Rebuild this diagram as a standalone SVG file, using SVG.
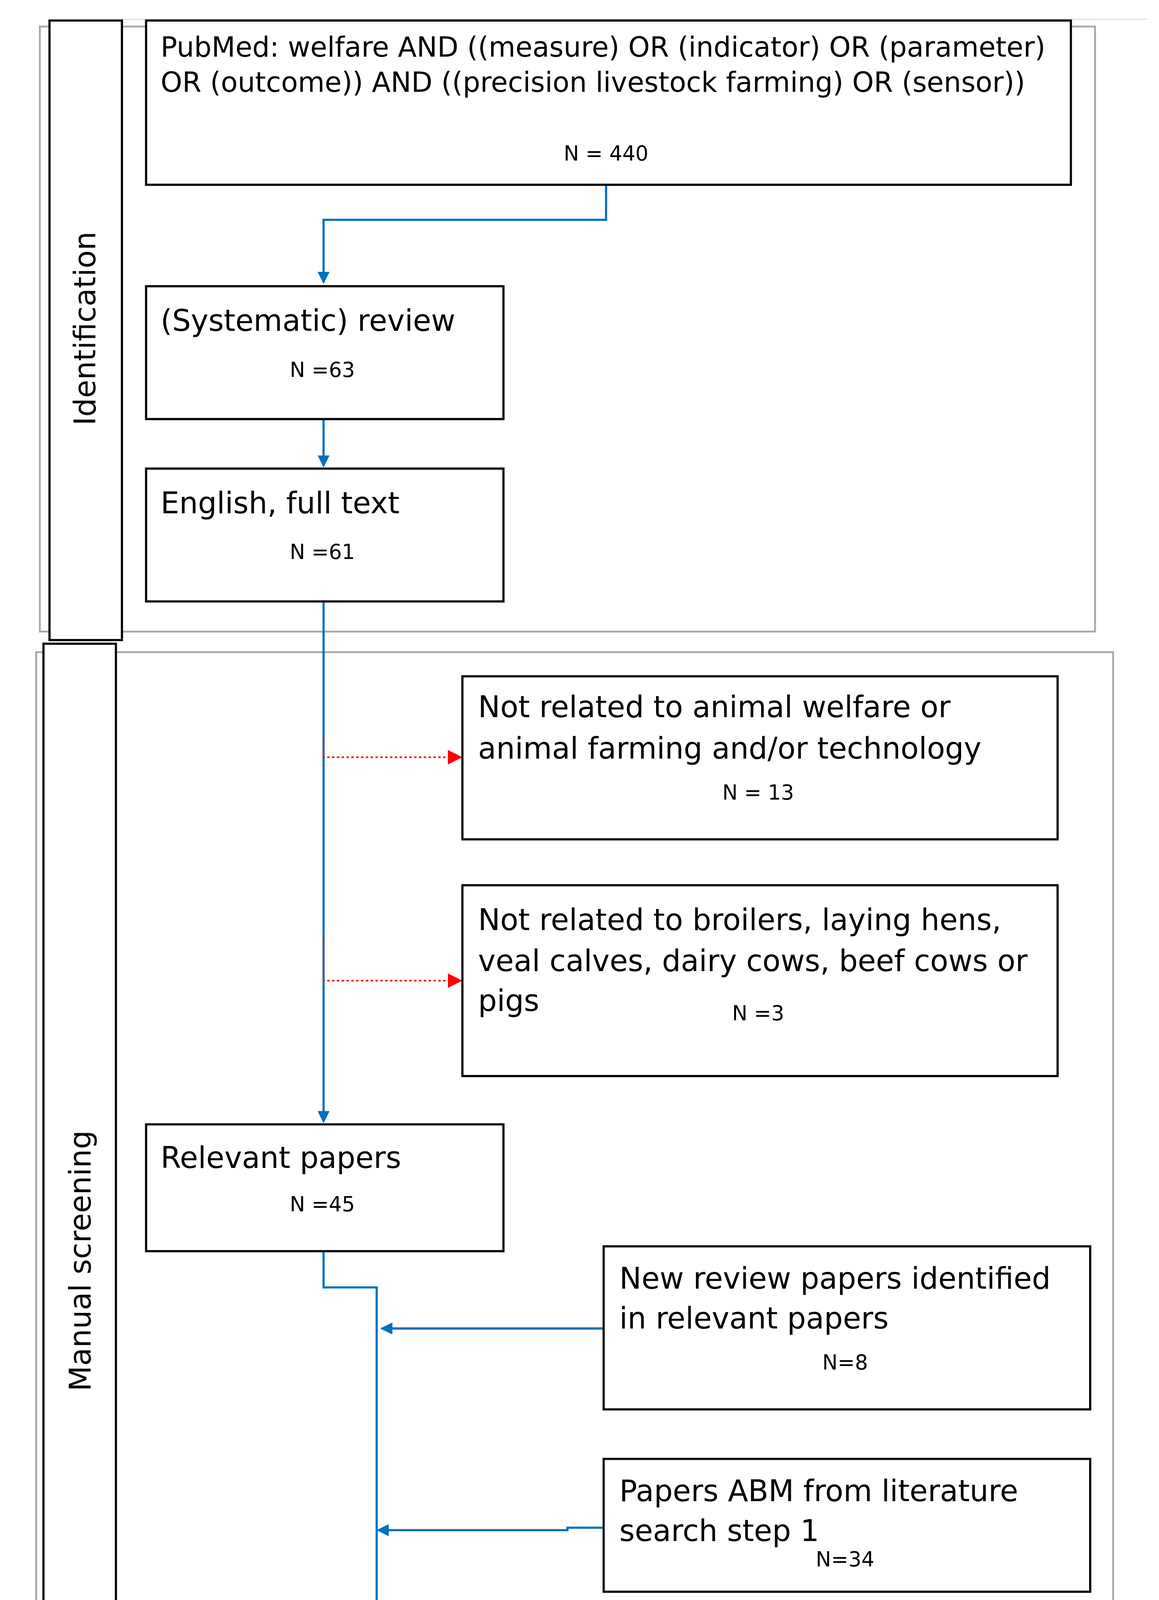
<svg xmlns="http://www.w3.org/2000/svg" width="2968" height="4811" viewBox="0 0 2968 4811">
<style>
.b{fill:#fff;stroke:#000;stroke-width:1.8}
.g{fill:none;stroke:#a6a6a6;stroke-width:1.5}
.t{font-family:"DejaVu Sans",sans-serif;font-size:24.5px;fill:#000}
.p{font-family:"DejaVu Sans",sans-serif;font-size:22.8px;fill:#000}
.n{font-family:"DejaVu Sans",sans-serif;font-size:17px;fill:#000}
.c{fill:none;stroke:#0070C0;stroke-width:1.8}
.r{fill:none;stroke:#FF0000;stroke-width:1.3;stroke-dasharray:2,2}
</style>
<defs>
<marker id="ab" markerWidth="10" markerHeight="10" refX="9" refY="5" orient="auto" markerUnits="userSpaceOnUse"><path d="M0,0L10,5L0,10z" fill="#0070C0"/></marker>
<marker id="ar" markerWidth="12" markerHeight="12" refX="11" refY="6" orient="auto" markerUnits="userSpaceOnUse"><path d="M0,0L12,6L0,12z" fill="#FF0000"/></marker>
</defs>
<rect width="2968" height="4811" fill="#fff"/>
<g transform="scale(3.0917)">
<g id="frames">
<line x1="100" y1="16" x2="950" y2="16" stroke="#e0e0e0" stroke-width="1"/>
<rect class="g" x="33" y="22" width="874" height="501"/>
<rect class="g" x="30" y="540" width="892" height="1010"/>
</g>
<g id="lab1"><rect class="b" x="41" y="17" width="60" height="513"/>
<text class="t" transform="translate(79,272) rotate(-90)" text-anchor="middle">Identification</text></g>
<g id="lab2"><rect class="b" x="36" y="533" width="60" height="1023"/>
<text class="t" transform="translate(75,1044) rotate(-90)" text-anchor="middle">Manual screening</text></g>
<g id="connectors">
<path class="c" d="M502,153V182H268V234" marker-end="url(#ab)"/>
<path class="c" d="M268,347V386" marker-end="url(#ab)"/>
<path class="c" d="M268,498V929" marker-end="url(#ab)"/>
<path class="r" d="M268,610V627H382" marker-end="url(#ar)"/>
<path class="r" d="M268,775V812H382" marker-end="url(#ar)"/>
<path class="c" d="M268,1036V1066H312V1391" marker-end="url(#ab)"/>
<path class="c" d="M500,1100H316" marker-end="url(#ab)"/>
<path class="c" d="M500,1265H470V1267H313" marker-end="url(#ab)"/>
</g>
<g id="pubmed"><rect class="b" x="121" y="17" width="766" height="136"/>
<text class="p" x="133" y="47">PubMed: welfare AND ((measure) OR (indicator) OR (parameter)</text>
<text class="p" x="133" y="76">OR (outcome)) AND ((precision livestock farming) OR (sensor))</text>
<text class="n" x="502" y="133" text-anchor="middle">N = 440</text></g>
<g id="review"><rect class="b" x="121" y="237" width="296" height="110"/>
<text class="t" x="133" y="274">(Systematic) review</text>
<text class="n" x="267" y="312" text-anchor="middle">N =63</text></g>
<g id="english"><rect class="b" x="121" y="388" width="296" height="110"/>
<text class="t" x="133" y="425">English, full text</text>
<text class="n" x="267" y="463" text-anchor="middle">N =61</text></g>
<g id="excl1"><rect class="b" x="383" y="560" width="493" height="135"/>
<text class="t" x="396" y="594">Not related to animal welfare or</text>
<text class="t" x="396" y="628">animal farming and/or technology</text>
<text class="n" x="628" y="662" text-anchor="middle">N = 13</text></g>
<g id="excl2"><rect class="b" x="383" y="733" width="493" height="158"/>
<text class="t" x="396" y="770">Not related to broilers, laying hens,</text>
<text class="t" x="396" y="804">veal calves, dairy cows, beef cows or</text>
<text class="t" x="396" y="837">pigs</text>
<text class="n" x="628" y="845" text-anchor="middle">N =3</text></g>
<g id="relevant"><rect class="b" x="121" y="931" width="296" height="105"/>
<text class="t" x="133" y="967">Relevant papers</text>
<text class="n" x="267" y="1003" text-anchor="middle">N =45</text></g>
<g id="newreview"><rect class="b" x="500" y="1032" width="403" height="135"/>
<text class="t" x="513" y="1067">New review papers identified</text>
<text class="t" x="513" y="1100">in relevant papers</text>
<text class="n" x="700" y="1134" text-anchor="middle">N=8</text></g>
<g id="abm"><rect class="b" x="500" y="1208" width="403" height="110"/>
<text class="t" x="513" y="1243">Papers ABM from literature</text>
<text class="t" x="513" y="1276">search step 1</text>
<text class="n" x="700" y="1297" text-anchor="middle">N=34</text></g>
<g id="docs"><rect class="b" x="116" y="1393" width="780" height="135"/>
<text class="t" x="129" y="1428" textLength="748" lengthAdjust="spacingAndGlyphs">Documents screened for examples of sensor technology and</text>
<text class="t" x="129" y="1461">AI to measure ABM’s</text>
<text class="n" x="505" y="1509" text-anchor="middle">N = 87</text></g>
</g>
</svg>
